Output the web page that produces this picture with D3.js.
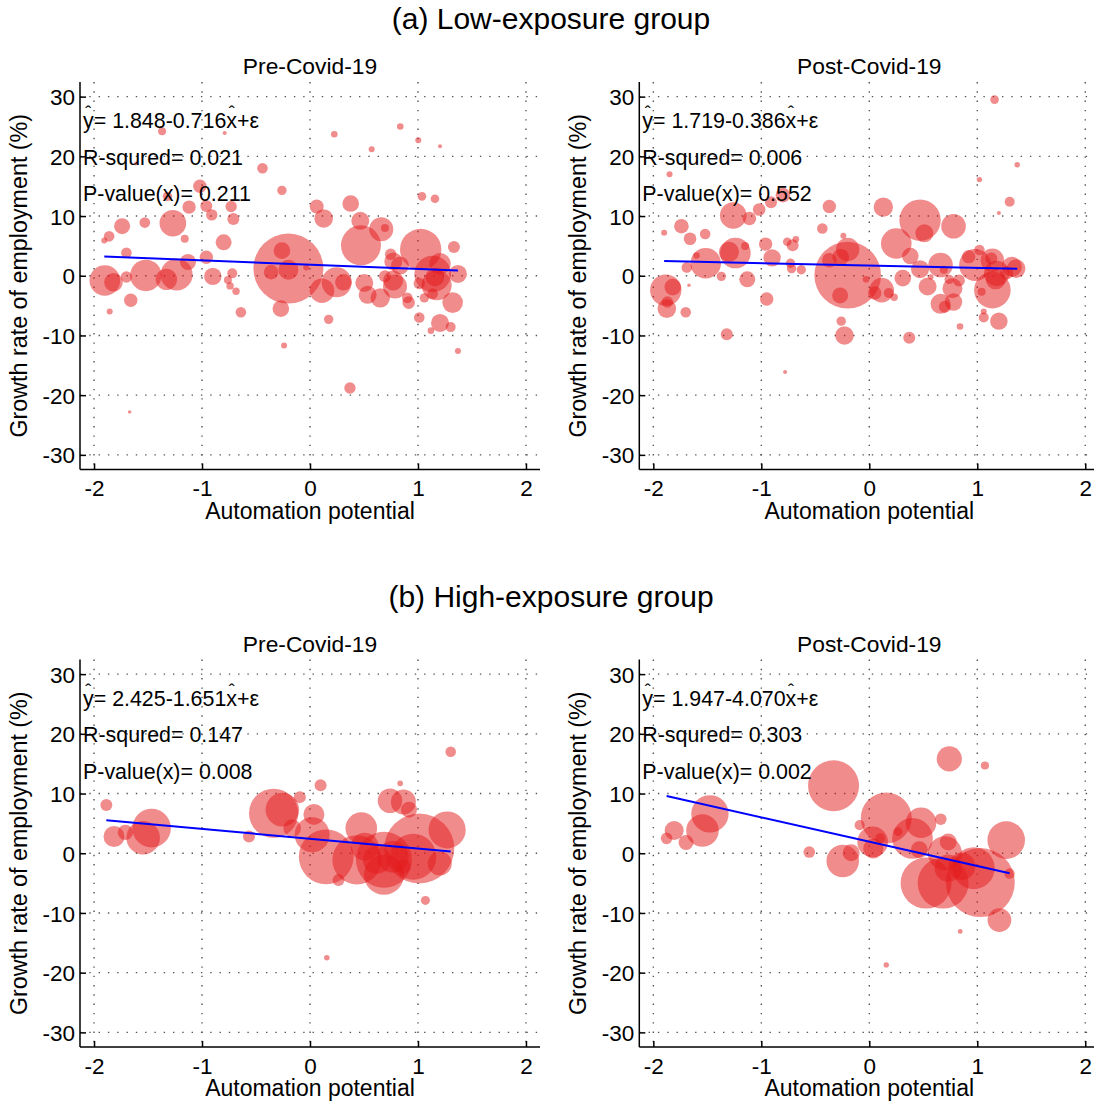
<!DOCTYPE html>
<meta charset="utf-8">
<style>
body { margin: 0; background: #fff; }
svg text { font-family: "Liberation Sans", Arial, sans-serif; fill: #000; }
.grid line { stroke: #555; stroke-width: 1.4; stroke-dasharray: 1.4,7.9; }
.axis line, .axis path { stroke: #000; stroke-width: 1.5; }
</style>
<body>
<div id="chart"></div>
<script src="https://cdn.jsdelivr.net/npm/d3@7"></script>
<script>
// [automation potential, growth rate (%), employment weight]
var preLow = [
  [-1.37, 24.2, 0.64], [-0.79, 23.9, 0.16], [-1.61, 18.8, 0.16], [-0.44, 18.0, 1.12],
  [-0.26, 14.3, 0.88], [-1.02, 15.0, 1.80], [-1.32, 13.3, 0.88], [-1.12, 11.5, 1.80],
  [-0.96, 11.7, 1.44], [-0.91, 10.2, 1.30], [-0.73, 11.6, 1.30], [-0.71, 9.5, 1.44],
  [-1.27, 8.8, 7.08], [-1.53, 8.9, 1.12], [-1.74, 8.3, 2.56], [-1.86, 6.6, 1.12],
  [-1.905, 5.9, 0.36], [-1.16, 6.2, 0.64], [-0.80, 5.6, 2.56], [-1.70, 3.85, 1.12],
  [-1.13, 2.3, 2.56], [-0.96, 3.1, 1.80], [-1.90, -0.8, 9.36], [-1.82, -1.1, 3.46],
  [-1.70, -0.2, 1.30], [-1.52, 0.05, 9.86], [-1.33, -0.6, 4.58], [-1.235, 0.2, 10.24],
  [-0.90, -0.1, 3.03], [-0.72, 0.4, 1.00], [-0.76, -0.7, 0.64], [-0.74, -1.7, 0.55],
  [-0.685, -2.6, 0.55], [-1.66, -4.1, 1.80], [-0.64, -6.1, 1.12], [-1.855, -6.0, 0.36],
  [-1.67, -22.8, 0.12], [-0.20, 1.2, 49.0], [-0.26, 4.2, 2.76], [-0.20, 1.0, 4.00],
  [-0.36, 0.6, 2.13], [-0.27, -5.5, 2.76], [-0.24, -11.7, 0.36], [-0.035, 1.4, 0.36],
  [0.225, 23.7, 0.44], [0.836, 25.0, 0.44], [0.571, 21.2, 0.36], [1.003, 22.7, 0.36],
  [1.204, 21.7, 0.16], [1.037, 13.3, 0.74], [1.157, 12.9, 0.74], [0.062, 11.6, 1.96],
  [0.377, 12.1, 2.76], [0.127, 9.6, 3.46], [0.466, 9.2, 3.24], [0.66, 7.8, 5.76],
  [0.694, 8.0, 0.64], [0.472, 5.1, 16.0], [1.025, 4.4, 17.1], [1.333, 4.8, 1.44],
  [0.747, 3.6, 1.30], [0.772, 2.4, 3.24], [0.833, 1.7, 3.24], [0.247, -1.1, 9.00],
  [0.309, -1.1, 2.76], [0.111, -2.5, 6.05], [0.503, -1.2, 3.24], [0.534, -3.2, 3.24],
  [0.651, -3.7, 3.76], [0.694, -0.1, 1.44], [0.787, -1.8, 5.76], [0.77, -0.8, 4.00],
  [0.901, -3.7, 1.12], [0.914, -4.5, 1.59], [1.012, -1.3, 1.30], [1.059, -3.7, 0.88],
  [1.136, 0.3, 13.4], [1.173, -1.6, 9.00], [1.157, -0.2, 3.46], [1.204, 2.0, 4.58],
  [1.136, -3.0, 1.12], [1.37, 0.3, 3.24], [1.321, -4.5, 4.24], [1.012, -7.0, 1.12],
  [1.204, -7.9, 3.24], [1.303, -8.6, 1.00], [1.12, -9.2, 0.44], [1.37, -12.6, 0.36],
  [0.173, -7.3, 0.88], [0.37, -18.8, 1.30]
];

var postLow = [
  [-1.85, 17.0, 0.36], [-1.90, 7.2, 0.36], [-1.74, 8.3, 2.13], [-1.66, 6.2, 1.59],
  [-1.52, 7.0, 1.12], [-1.60, 3.4, 0.44], [-1.69, 1.4, 1.12], [-1.515, 2.1, 9.36],
  [-1.885, -2.4, 9.86], [-1.82, -1.9, 2.76], [-1.875, -5.5, 3.46], [-1.87, -4.4, 1.30],
  [-1.67, -1.6, 0.12], [-1.70, -6.1, 1.12], [-1.26, 10.1, 7.08], [-1.11, 9.6, 1.80],
  [-1.24, 3.8, 9.36], [-1.30, 4.0, 4.00], [-1.15, 5.0, 0.64], [-1.37, -0.1, 0.88],
  [-1.13, -0.6, 2.56], [-1.32, -9.8, 1.44], [-1.02, 11.1, 1.59], [-0.91, 12.3, 1.44],
  [-0.80, 13.5, 2.13], [-0.96, 5.3, 1.80], [-0.90, 3.0, 3.03], [-0.95, -3.9, 1.80],
  [-0.76, 5.7, 0.74], [-0.68, 6.1, 0.44], [-0.71, 5.1, 1.44], [-0.73, 2.1, 0.88],
  [-0.72, 1.2, 0.88], [-0.63, 1.0, 0.88], [-0.78, -16.1, 0.16], [-0.37, 11.6, 1.80],
  [-0.435, 7.9, 1.12], [-0.24, 6.7, 0.36], [-0.20, 0.1, 44.4], [-0.20, 4.4, 5.48],
  [-0.265, 3.1, 2.76], [-0.37, 2.6, 2.13], [-0.27, -3.3, 2.56], [-0.26, -7.6, 0.88],
  [-0.23, -10.0, 3.46], [-0.03, -0.6, 0.44], [1.16, 29.5, 0.74], [1.37, 18.6, 0.29],
  [1.02, 16.1, 0.29], [1.30, 12.4, 1.00], [1.20, 10.5, 0.16], [0.13, 11.5, 3.76],
  [0.47, 9.3, 17.1], [0.51, 7.1, 3.24], [0.78, 8.3, 6.05], [0.25, 5.4, 9.36],
  [0.38, 3.3, 2.76], [0.47, 1.1, 3.24], [0.66, 1.8, 6.05], [0.69, 1.0, 0.64],
  [0.31, -0.4, 2.76], [0.57, -0.2, 0.29], [0.54, -1.8, 3.24], [0.115, -2.4, 6.05],
  [0.05, -2.9, 1.80], [0.18, -2.9, 1.00], [0.23, -3.6, 0.55], [0.66, -4.7, 4.00],
  [0.70, -5.2, 1.44], [0.78, -4.4, 3.03], [0.77, -2.1, 4.00], [0.74, -0.6, 0.88],
  [0.83, -0.8, 1.44], [0.84, -8.5, 0.44], [0.37, -10.4, 1.44], [0.98, 1.8, 10.24],
  [0.92, 3.2, 1.80], [1.02, 4.3, 1.12], [1.14, 2.6, 5.48], [1.13, 2.9, 1.44],
  [1.18, 0.4, 6.45], [1.14, -2.4, 13.4], [1.17, -0.6, 4.00], [1.32, 1.5, 4.00],
  [1.36, 1.2, 3.46], [1.27, 0.5, 1.80], [1.04, -2.7, 0.64], [1.06, -7.0, 1.00],
  [1.06, -6.0, 0.36], [1.20, -7.6, 3.03]
];

var preHigh = [
  [-1.886, 8.1, 1.44], [-1.815, 2.8, 4.41], [-1.71, 3.5, 2.37], [-1.545, 2.6, 11.3],
  [-1.467, 4.2, 14.9], [-0.565, 2.8, 1.44], [-0.337, 6.7, 24.2], [-0.256, 7.3, 11.3],
  [-0.094, 9.4, 1.44], [0.098, 11.4, 1.44], [-0.165, 4.2, 3.10], [0.036, 6.5, 4.41],
  [0.02, 3.1, 12.25], [0.15, -0.6, 30.0], [0.264, -4.5, 1.44], [0.156, -17.5, 0.31],
  [0.475, 4.2, 10.0], [0.435, -1.1, 24.2], [0.507, 1.1, 7.84], [0.685, -1.1, 31.4],
  [0.685, -3.6, 16.0], [0.62, -1.1, 7.84], [0.741, 8.8, 6.05], [0.865, 8.6, 6.25],
  [0.917, 7.3, 2.56], [0.835, 11.7, 0.31], [0.767, -0.6, 10.0], [1.012, 0.8, 49.0],
  [0.957, -0.6, 21.2], [0.865, -2.2, 1.96], [1.202, -1.7, 5.76], [1.27, 3.9, 13.8],
  [1.303, 17.0, 1.12], [1.069, -7.9, 0.81]
];

var postHigh = [
  [-1.877, 2.5, 1.35], [-1.807, 3.8, 3.61], [-1.697, 1.8, 2.25], [-1.545, 3.8, 10.6],
  [-1.476, 6.6, 14.0], [-0.556, 0.2, 1.35], [-0.331, 11.3, 26.0], [-0.246, -1.3, 10.6],
  [-0.168, 0.1, 2.89], [-0.089, 4.7, 1.04], [0.157, 5.9, 26.0], [0.031, 1.9, 9.36],
  [0.037, 0.8, 4.00], [0.101, 2.5, 1.00], [0.267, 3.6, 0.77], [0.157, -18.7, 0.29],
  [0.479, 5.1, 9.36], [0.40, 2.5, 16.6], [0.463, 0.6, 2.89], [0.662, 5.7, 1.35],
  [0.731, 1.9, 2.89], [0.70, 0.0, 11.6], [0.526, -5.0, 26.0], [0.684, -5.0, 26.0],
  [0.731, -2.5, 7.40], [0.857, -2.2, 7.40], [0.967, -2.5, 17.6], [1.028, -4.9, 47.6],
  [1.268, 2.2, 14.1], [1.299, -3.4, 1.08], [1.205, -11.2, 5.66], [0.741, 15.8, 6.35],
  [1.071, 14.7, 0.67], [0.842, -13.1, 0.23]
];

var groupTitles = ["(a) Low-exposure group", "(b) High-exposure group"];
var periodTitles = ["Pre-Covid-19", "Post-Covid-19"];
var intercepts = [1.848, 1.719, 2.425, 1.947];
var slopes = [-0.716, -0.386, -1.651, -4.070];
var rSquared = ["0.021", "0.006", "0.147", "0.303"];
var pValues = ["0.211", "0.552", "0.008", "0.002"];
var xTicks = [-2, -1, 0, 1, 2];
var yTicks = [-30, -20, -10, 0, 10, 20, 30];

var width = 1094, height = 1102;
var pw = 460, ph = 387.5;
var origins = [[80, 82], [639.3, 82], [80, 659.5], [639.3, 659.5]];
var datasets = [preLow, postLow, preHigh, postHigh];

var svg = d3.select("#chart").append("svg")
  .attr("width", width)
  .attr("height", height);

svg.append("rect").attr("width", width).attr("height", height).attr("fill", "#fff");

var x = d3.scaleLinear().domain([-2.13, 2.13]).range([0, pw]);
var y = d3.scaleLinear().domain([-32.45, 32.45]).range([ph, 0]);
var r = d3.scaleSqrt().domain([0, 100]).range([0, 50]);

// plain hyphen for negatives, as in the original figure
var fmt = function(d) { return String(d); };

// group titles
groupTitles.forEach(function(t, i) {
  svg.append("text")
    .attr("x", 551)
    .attr("y", i == 0 ? 29 : 607)
    .attr("text-anchor", "middle")
    .style("font-size", "30px")
    .text(t);
});

datasets.forEach(function(data, k) {
  var g = svg.append("g")
    .attr("transform", "translate(" + origins[k][0] + "," + origins[k][1] + ")");

  // grid
  var grid = g.append("g").attr("class", "grid");
  grid.selectAll(".gy").data(yTicks).enter().append("line")
    .attr("x1", 0).attr("x2", pw)
    .attr("y1", function(d) { return y(d); })
    .attr("y2", function(d) { return y(d); });
  grid.selectAll(".gx").data(xTicks).enter().append("line")
    .attr("y1", 0).attr("y2", ph)
    .attr("x1", function(d) { return x(d); })
    .attr("x2", function(d) { return x(d); });

  // bubbles
  g.append("g").selectAll("circle")
    .data(data)
    .enter().append("circle")
    .attr("cx", function(d) { return x(d[0]); })
    .attr("cy", function(d) { return y(d[1]); })
    .attr("r", function(d) { return r(d[2]); })
    .attr("fill", "#e41a1c")
    .attr("fill-opacity", 0.5);

  // fitted line
  var ext = d3.extent(data, function(d) { return d[0]; });
  var a = intercepts[k], b = slopes[k];
  g.append("line")
    .attr("x1", x(ext[0])).attr("y1", y(a + b * ext[0]))
    .attr("x2", x(ext[1])).attr("y2", y(a + b * ext[1]))
    .attr("stroke", "#0000ff")
    .attr("stroke-width", 2);

  // axes
  var xAxis = g.append("g").attr("class", "axis")
    .attr("transform", "translate(0," + ph + ")")
    .call(d3.axisBottom(x).tickValues(xTicks).tickSizeInner(-6).tickSizeOuter(0).tickPadding(10)
      .tickFormat(fmt));
  var yAxis = g.append("g").attr("class", "axis")
    .call(d3.axisLeft(y).tickValues(yTicks).tickSizeInner(-6).tickSizeOuter(0).tickPadding(5)
      .tickFormat(fmt));
  [xAxis, yAxis].forEach(function(ax) {
    ax.selectAll("text").style("font-size", "22.5px");
    ax.attr("font-family", null).attr("font-size", null);
  });
  xAxis.select(".domain").attr("d", "M0,0H" + pw);
  yAxis.select(".domain").attr("d", "M0," + ph + "V0");
  xAxis.selectAll("text").attr("dy", "0.75em");
  yAxis.selectAll("text").attr("dy", "0.36em");

  // axis labels
  g.append("text")
    .attr("x", x(0)).attr("y", ph + 49)
    .attr("text-anchor", "middle")
    .style("font-size", "23px")
    .text("Automation potential");
  g.append("text")
    .attr("transform", "translate(-53.5," + (ph / 2) + ") rotate(-90)")
    .attr("text-anchor", "middle")
    .style("font-size", "23.3px")
    .text("Growth rate of employment (%)");

  // panel title
  g.append("text")
    .attr("x", x(0)).attr("y", -8)
    .attr("text-anchor", "middle")
    .style("font-size", "22.8px")
    .text(periodTitles[k % 2]);

  // regression annotations
  var eq = "y= " + a.toFixed(3) + (b < 0 ? "-" : "+") + Math.abs(b).toFixed(3) + "x+\u03b5";
  var lines = [eq, "R-squred= " + rSquared[k], "P-value(x)= " + pValues[k]];
  var base = y(30) + 31.5;
  lines.forEach(function(t, i) {
    var txt = g.append("text")
      .attr("x", 3).attr("y", base + i * 36.5)
      .style("font-size", "21.4px")
      .text(t);
    if (i == 0) {
      var node = txt.node();
      [0, t.indexOf("x")].forEach(function(ci) {
        var box = node.getExtentOfChar(ci);
        g.append("text")
          .attr("x", box.x + box.width / 2)
          .attr("y", base - 9)
          .attr("text-anchor", "middle")
          .style("font-size", "18px")
          .text("\u02c6");
      });
    }
  });
});
</script>
</body>
